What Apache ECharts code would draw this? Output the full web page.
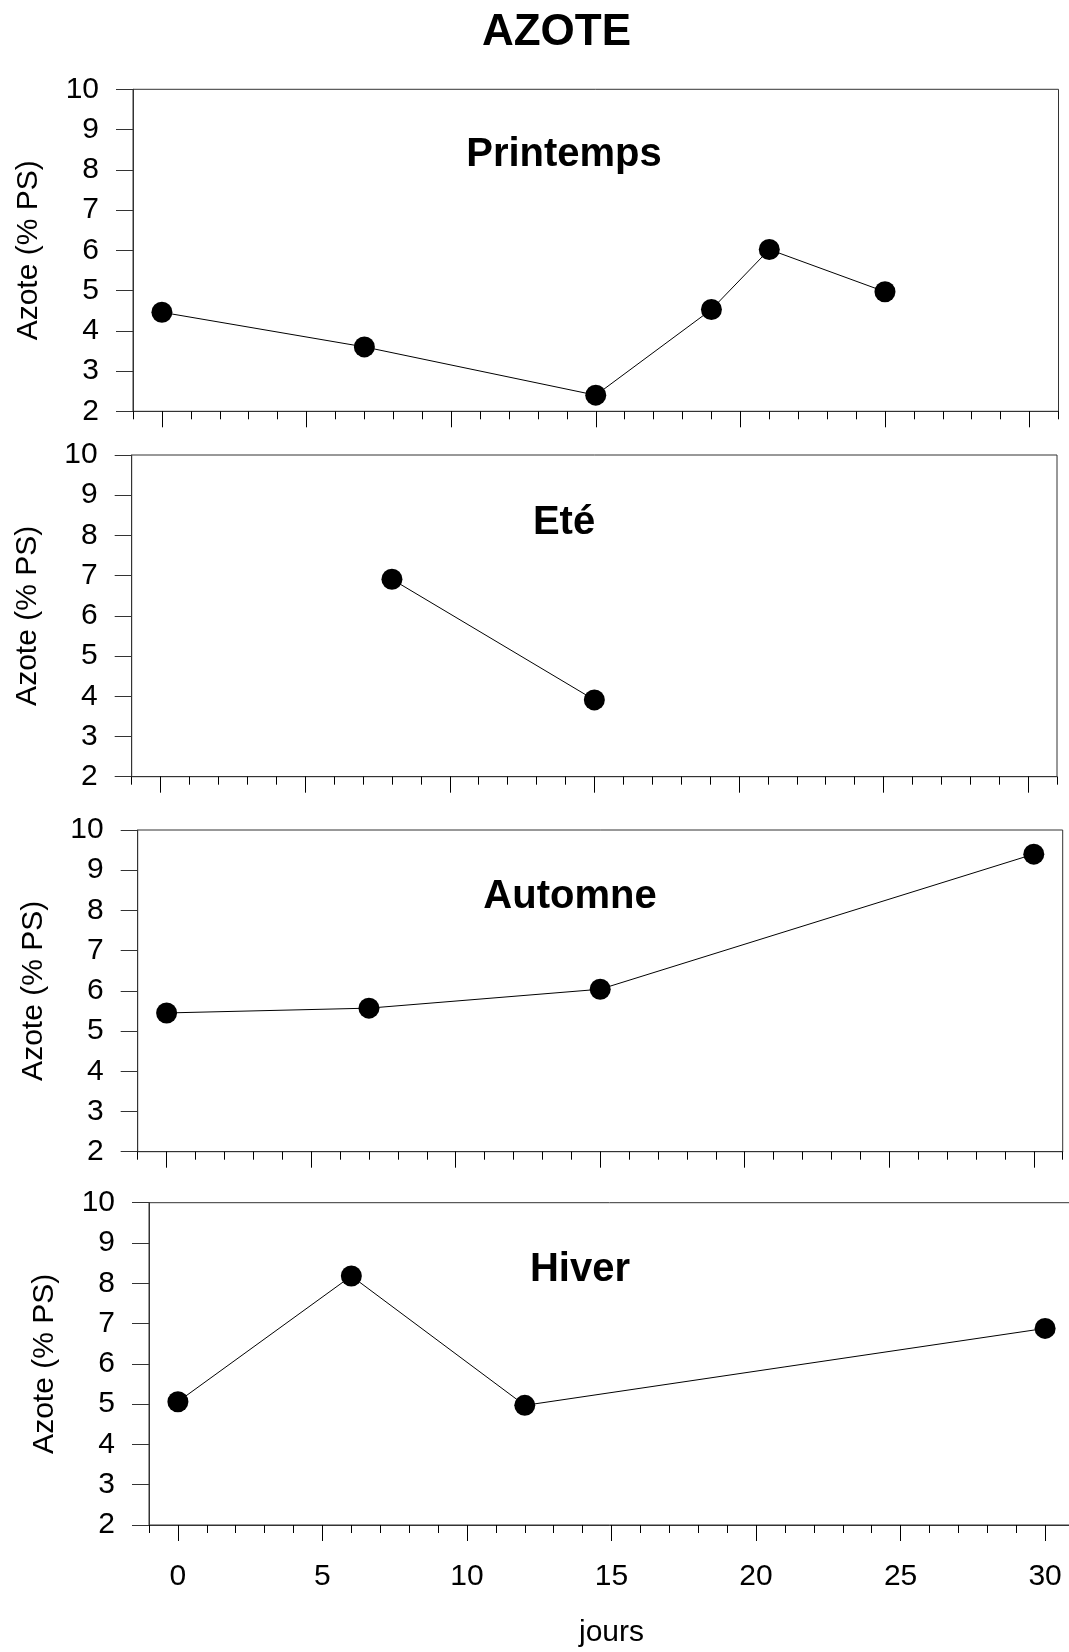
<!DOCTYPE html>
<html>
<head>
<meta charset="utf-8">
<title>AZOTE</title>
<script src="https://cdn.jsdelivr.net/npm/echarts@6/dist/echarts.min.js"></script>
<style>
  html, body { margin: 0; padding: 0; background: #fff; }
  #chart { width: 1069px; height: 1652px; }
</style>
</head>
<body>
<div id="chart"></div>
<script>
// Nitrogen content (% dry weight) over time, one panel per season
const saisons = ['Printemps', 'Eté', 'Automne', 'Hiver'];

const printempsJours = [0, 7, 15, 19, 21, 25];
const printempsAzote = [4.46, 3.60, 2.40, 4.53, 6.02, 4.97];

const eteJours = [8, 15];
const eteAzote = [6.91, 3.91];

const automneJours = [0, 7, 15, 30];
const automneAzote = [5.45, 5.57, 6.04, 9.40];

const hiverJours = [0, 6, 12, 30];
const hiverAzote = [5.06, 8.18, 4.97, 6.88];

const joursMajeurs = [0, 5, 10, 15, 20, 25, 30];
const azoteTicks = [2, 3, 4, 5, 6, 7, 8, 9, 10];

const titre = 'AZOTE';
const nomAxeY = 'Azote (% PS)';
const nomAxeX = 'jours';

const FONT = '"Liberation Sans", Arial, Helvetica, sans-serif';
const AXIS_COLOR = '#333';

// panel frames (px)
const panels = [
  { left: 133,   top: 89.3,  width: 925.5, height: 322,   titleX: 564, titleY: 155 },
  { left: 131.7, top: 455,   width: 925.3, height: 321.7, titleX: 564, titleY: 523 },
  { left: 137.7, top: 830,   width: 925,   height: 321.7, titleX: 570, titleY: 897 },
  { left: 149,   top: 1202.7,width: 925,   height: 322.3, titleX: 580, titleY: 1270 }
];

const seriesData = [
  [printempsJours, printempsAzote],
  [eteJours, eteAzote],
  [automneJours, automneAzote],
  [hiverJours, hiverAzote]
];

const minorTicks = [];
for (let d = -1; d <= 31; d++) minorTicks.push(d);

const grid = [], xAxis = [], yAxis = [], series = [], graphic = [];

panels.forEach((p, i) => {
  const last = i === panels.length - 1;
  grid.push({
    left: p.left, top: p.top, width: p.width, height: p.height,
    show: true, borderColor: AXIS_COLOR, borderWidth: 1, backgroundColor: 'transparent',
    containLabel: false, outerBoundsMode: 'none'
  });
  // daily ticks
  xAxis.push({
    type: 'value', gridIndex: i, min: -1, max: 31, position: 'bottom',
    axisLine: { show: true, onZero: false, lineStyle: { color: AXIS_COLOR, width: 1 } },
    axisTick: { show: true, inside: false, length: 8, customValues: minorTicks, lineStyle: { color: '#000', width: 1 } },
    axisLabel: { show: false },
    splitLine: { show: false }
  });
  // 5-day ticks and labels
  xAxis.push({
    type: 'value', gridIndex: i, min: -1, max: 31, position: 'bottom',
    axisLine: { show: false, onZero: false },
    axisTick: { show: true, inside: false, length: 16, customValues: joursMajeurs, lineStyle: { color: '#000', width: 1 } },
    axisLabel: {
      show: last, customValues: joursMajeurs, margin: 37,
      fontFamily: FONT, fontSize: 30, color: '#000'
    },
    splitLine: { show: false },
    name: last ? nomAxeX : '',
    nameLocation: 'middle', nameGap: 93,
    nameTextStyle: { fontFamily: FONT, fontSize: 30, color: '#000' }
  });
  yAxis.push({
    type: 'value', gridIndex: i, min: azoteTicks[0], max: azoteTicks[azoteTicks.length - 1], interval: 1,
    axisLine: { show: true, onZero: false, lineStyle: { color: AXIS_COLOR, width: 1 } },
    axisTick: { show: true, inside: false, length: 17, lineStyle: { color: AXIS_COLOR, width: 1 } },
    axisLabel: { margin: 34, fontFamily: FONT, fontSize: 30, color: '#000' },
    splitLine: { show: false },
    name: nomAxeY, nameLocation: 'middle', nameRotate: 90, nameGap: 89,
    nameTextStyle: { fontFamily: FONT, fontSize: 30, color: '#000' }
  });
  const [xs, ys] = seriesData[i];
  series.push({
    type: 'line', name: saisons[i], xAxisIndex: 2 * i, yAxisIndex: i,
    data: xs.map((x, k) => [x, ys[k]]),
    symbol: 'circle', symbolSize: 21,
    itemStyle: { color: '#000' },
    lineStyle: { color: '#000', width: 1 },
    clip: false
  });
  graphic.push({
    type: 'text', x: p.titleX, y: p.titleY,
    style: {
      text: saisons[i], font: 'bold 40px ' + FONT, fill: '#000',
      align: 'center', verticalAlign: 'middle'
    }
  });
});

graphic.push({
  type: 'text', x: 556.5, y: 33,
  style: { text: titre, font: 'bold 44px ' + FONT, fill: '#000', align: 'center', verticalAlign: 'middle' }
});

const chart = echarts.init(document.getElementById('chart'), null, { renderer: 'canvas' });
chart.setOption({
  animation: false,
  backgroundColor: '#fff',
  textStyle: { fontFamily: FONT },
  grid, xAxis, yAxis, series, graphic
});
</script>
</body>
</html>
